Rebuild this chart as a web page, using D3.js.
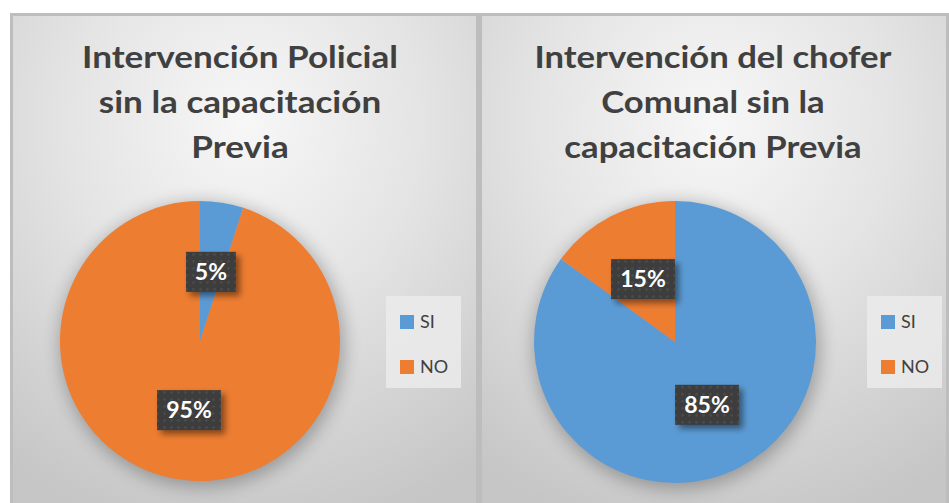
<!DOCTYPE html>
<html>
<head>
<meta charset="utf-8">
<script src="https://cdn.jsdelivr.net/npm/d3@7"></script>
<style>
  body { margin: 0; background: #fff; }
  svg { display: block; }
</style>
</head>
<body>
<div id="chart"></div>
<script>
(function () {

  // data
  var categories = ["SI", "NO"];
  var policialValues = [5, 95];
  var choferValues = [85, 15];
  var policialTitle = ["Intervención Policial", "sin la capacitación", "Previa"];
  var choferTitle = ["Intervención del chofer", "Comunal sin la", "capacitación Previa"];

  var width = 949, height = 503;

  var color = d3.scaleOrdinal()
    .domain(categories)
    .range(["#5B9BD5", "#ED7D31"]);

  var svg = d3.select("#chart")
    .append("svg")
    .attr("width", width)
    .attr("height", height);

  var defs = svg.append("defs");

  // background gradient
  var grad = defs.append("radialGradient")
    .attr("id", "bg")
    .attr("cx", "50%").attr("cy", "22%")
    .attr("r", "85%")
    .attr("fx", "50%").attr("fy", "22%");
  grad.append("stop").attr("offset", "0%").attr("stop-color", "#f7f7f7");
  grad.append("stop").attr("offset", "45%").attr("stop-color", "#e4e4e4");
  grad.append("stop").attr("offset", "100%").attr("stop-color", "#c6c6c6");

  var blur = defs.append("filter").attr("id", "pieShadow")
    .attr("x", "-30%").attr("y", "-30%").attr("width", "160%").attr("height", "160%");
  blur.append("feGaussianBlur").attr("stdDeviation", 9);

  var boxShadow = defs.append("filter").attr("id", "boxShadow")
    .attr("x", "-30%").attr("y", "-30%").attr("width", "170%").attr("height", "170%");
  boxShadow.append("feDropShadow")
    .attr("dx", 4).attr("dy", 4).attr("stdDeviation", 3)
    .attr("flood-color", "#000").attr("flood-opacity", 0.45);

  var dots = defs.append("pattern").attr("id", "dots")
    .attr("width", 7).attr("height", 7)
    .attr("patternUnits", "userSpaceOnUse");
  dots.append("rect").attr("width", 7).attr("height", 7).attr("fill", "#3c3c3c");
  dots.append("circle").attr("cx", 3.5).attr("cy", 3.5).attr("r", 1.4).attr("fill", "#4b4b4b");

  var panels = [
    { x: 10, w: 469, title: policialTitle, values: policialValues, cx: 200, cy: 341, r: 140, lx: 386, tx: 240, fit: 316 },
    { x: 479, w: 470, title: choferTitle, values: choferValues, cx: 675, cy: 342, r: 141, lx: 867, tx: 713, fit: 357 }
  ];

  panels.forEach(function(p, i) {
    var g = svg.append("g");

    g.append("rect")
      .attr("x", p.x + 1.5)
      .attr("y", 14.5)
      .attr("width", p.w - 3)
      .attr("height", height - 12)
      .attr("fill", "url(#bg)")
      .attr("stroke", "#bdbdbd")
      .attr("stroke-width", 3);

    // title
    var title = g.append("text")
      .attr("text-anchor", "middle")
      .attr("font-family", "Lato, 'Open Sans', sans-serif")
      .attr("font-weight", "bold")
      .attr("font-size", 31)
      .attr("fill", "#404040");

    var lines = title.selectAll("tspan")
      .data(p.title)
      .enter().append("tspan")
      .attr("x", p.tx)
      .attr("y", function(d, j) { return 68 + j * 45; })
      .text(function(d) { return d; });

    // shrink to the width of the original lines
    var first = lines.node().getComputedTextLength();
    var k = p.fit / first;
    lines.each(function() {
      var len = this.getComputedTextLength();
      d3.select(this)
        .attr("textLength", len * k)
        .attr("lengthAdjust", "spacingAndGlyphs");
    });

    // pie
    var pie = d3.pie().sort(null).value(function(d) { return d; });
    var arcs = pie(p.values);
    var arc = d3.arc().innerRadius(0).outerRadius(p.r);
    var labelArc = d3.arc().innerRadius(p.r * 0.5).outerRadius(p.r * 0.5);

    var pg = g.append("g").attr("transform", "translate(" + p.cx + "," + p.cy + ")");

    pg.append("circle")
      .attr("cx", 2).attr("cy", 4)
      .attr("r", p.r + 2)
      .attr("fill", "#000")
      .attr("opacity", 0.28)
      .attr("filter", "url(#pieShadow)");

    pg.selectAll(".slice")
      .data(arcs)
      .enter().append("path")
      .attr("class", "slice")
      .attr("d", arc)
      .attr("fill", function(d, j) { return color(categories[j]); });

    var labels = pg.selectAll(".lbl")
      .data(arcs)
      .enter().append("g")
      .attr("class", "lbl")
      .attr("transform", function(d) {
        var c = labelArc.centroid(d);
        return "translate(" + c[0] + "," + c[1] + ")";
      });

    labels.append("rect")
      .attr("x", function(d) { return d.data >= 10 ? -32 : -25; })
      .attr("y", -20)
      .attr("width", function(d) { return d.data >= 10 ? 64 : 50; })
      .attr("height", 40)
      .attr("fill", "url(#dots)")
      .attr("filter", "url(#boxShadow)");

    labels.append("text")
      .attr("text-anchor", "middle")
      .attr("dy", 8)
      .attr("font-family", "Lato, 'Open Sans', sans-serif")
      .attr("font-weight", "bold")
      .attr("font-size", 23)
      .attr("fill", "#fff")
      .text(function(d) { return d.data + "%"; });

    // legend
    var lg = g.append("g").attr("transform", "translate(" + p.lx + ",296)");
    lg.append("rect")
      .attr("width", 75)
      .attr("height", 92)
      .attr("fill", "#ebebeb")
      .attr("opacity", 0.85);

    var items = lg.selectAll(".item")
      .data(categories)
      .enter().append("g")
      .attr("class", "item")
      .attr("transform", function(d, j) { return "translate(14," + (19 + j * 45) + ")"; });

    items.append("rect")
      .attr("width", 14)
      .attr("height", 14)
      .attr("fill", function(d) { return color(d); });

    items.append("text")
      .attr("x", 20)
      .attr("y", 13)
      .attr("font-family", "Lato, 'Open Sans', sans-serif")
      .attr("font-size", 18)
      .attr("fill", "#404040")
      .text(function(d) { return d; });
  });

})();
</script>
</body>
</html>
